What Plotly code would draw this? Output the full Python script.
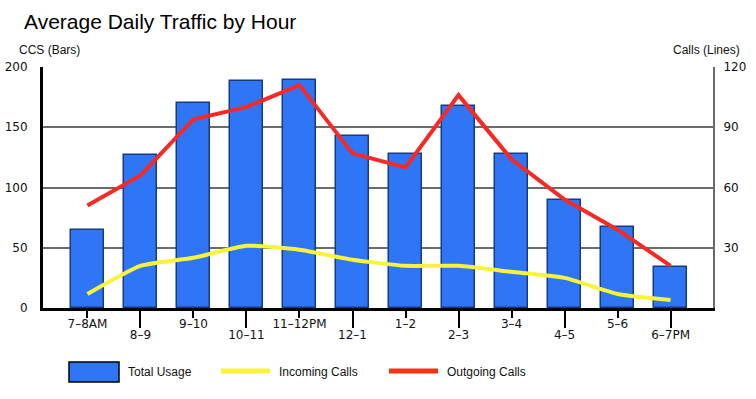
import plotly.graph_objects as go

categories = ["7–8AM", "8–9", "9–10", "10–11", "11–12PM", "12–1", "1–2", "2–3", "3–4", "4–5", "5–6", "6–7PM"]
total_usage = [65, 127, 170, 188, 189, 143, 128, 168, 128, 90, 67, 34]
incoming_calls = [7, 21, 25, 31, 29, 24, 21, 21, 18, 15, 7, 4]
outgoing_calls = [51, 66, 94, 100, 111, 77, 70, 106, 74, 54, 39, 21]
series_names = ["Total Usage", "Incoming Calls", "Outgoing Calls"]
left_ticks = [0, 50, 100, 150, 200]
right_ticks = [0, 30, 60, 90, 120]

BAR_COLOR = "#2E76F6"
BAR_EDGE = "#163B80"
YELLOW = "#F8F43C"
RED = "#F52A26"
LEG_RED = "#F23414"
GRID = "#6B6B6B"

W, H = 756, 399
L, R, T, B = 43, 713, 67, 308
idx = list(range(len(categories)))

fig = go.Figure()
fig.add_trace(go.Bar(x=idx, y=total_usage, width=0.634, name=series_names[0],
                     marker=dict(color=BAR_COLOR, line=dict(color=BAR_EDGE, width=1.5)),
                     showlegend=False))
fig.add_trace(go.Scatter(x=idx, y=incoming_calls, yaxis="y2", mode="lines", name=series_names[1],
                         line=dict(color=YELLOW, width=4, shape="spline", smoothing=0.5),
                         showlegend=False))
fig.add_trace(go.Scatter(x=idx, y=outgoing_calls, yaxis="y2", mode="lines", name=series_names[2],
                         line=dict(color=RED, width=4), showlegend=False))
# helper trace for the second (staggered) category axis
fig.add_trace(go.Scatter(x=idx, y=[None] * len(idx), xaxis="x2", mode="lines",
                         showlegend=False, hoverinfo="skip"))

xr = [-0.838, 11.80]
tickfont = dict(family="DejaVu Sans", size=12, color="#111")
even = [i for i in idx if i % 2 == 0]
odd = [i for i in idx if i % 2 == 1]

fig.update_layout(
    width=W, height=H,
    margin=dict(l=L, r=W - R, t=T, b=H - B, pad=0, autoexpand=False),
    paper_bgcolor="white", plot_bgcolor="white",
    bargap=0,
    xaxis=dict(range=xr, tickmode="array", tickvals=even, ticktext=[categories[i] for i in even],
               ticks="outside", ticklen=7, tickwidth=1.5, tickcolor="black", automargin=False,
               ticklabelstandoff=-4,
               showline=True, linecolor="black", linewidth=3, showgrid=False, zeroline=False,
               tickfont=tickfont, fixedrange=True),
    xaxis2=dict(range=xr, overlaying="x", side="bottom", tickmode="array", tickvals=odd,
                ticktext=[categories[i] for i in odd], ticks="outside", ticklen=19, tickwidth=1.5,
                ticklabelstandoff=-3,
                tickcolor="black", showline=False, showgrid=False, zeroline=False, automargin=False,
                tickfont=tickfont, fixedrange=True),
    yaxis=dict(range=[0, 200], tickvals=left_ticks, ticks="outside", ticklen=10, tickcolor="rgba(0,0,0,0)",
               showline=True, linecolor="black", linewidth=3, showgrid=True, gridcolor=GRID,
               gridwidth=2, zeroline=False, tickfont=tickfont, fixedrange=True, automargin=False),
    yaxis2=dict(range=[0, 120], tickvals=right_ticks[1:], overlaying="y", side="right",
                ticks="outside", ticklen=6, tickcolor="rgba(0,0,0,0)", automargin=False,
                showline=True, linecolor=GRID, linewidth=2, showgrid=False, zeroline=False,
                tickfont=tickfont, fixedrange=True),
    title=dict(text="Average Daily Traffic by Hour", x=24 / W, xanchor="left", xref="container",
               y=1 - 22 / H, yanchor="middle", yref="container",
               font=dict(family="Liberation Sans", size=21, color="black")),
)

def px_x(p):
    return (p - L) / (R - L)

def px_y(p):
    return (B - p) / (B - T)

axis_font = dict(family="Liberation Sans", size=12, color="#111")
fig.add_annotation(text="CCS (Bars)", x=px_x(17), y=px_y(50), xref="paper", yref="paper",
                   xanchor="left", yanchor="middle", showarrow=False, font=axis_font)
fig.add_annotation(text="Calls (Lines)", x=px_x(742), y=px_y(50), xref="paper", yref="paper",
                   xanchor="right", yanchor="middle", showarrow=False, font=axis_font)

# manual legend
leg_font = dict(family="Liberation Sans", size=12, color="#111")
fig.add_shape(type="rect", xref="paper", yref="paper", x0=px_x(69), x1=px_x(119),
              y0=px_y(382), y1=px_y(362), fillcolor=BAR_COLOR, line=dict(color="black", width=1.5))
fig.add_annotation(text=series_names[0], x=px_x(126), y=px_y(372), xref="paper", yref="paper",
                   xanchor="left", yanchor="middle", showarrow=False, font=leg_font)
fig.add_shape(type="line", xref="paper", yref="paper", x0=px_x(221), x1=px_x(270),
              y0=px_y(371), y1=px_y(371), line=dict(color=YELLOW, width=5))
fig.add_annotation(text=series_names[1], x=px_x(277), y=px_y(372), xref="paper", yref="paper",
                   xanchor="left", yanchor="middle", showarrow=False, font=leg_font)
fig.add_shape(type="line", xref="paper", yref="paper", x0=px_x(389), x1=px_x(438),
              y0=px_y(371), y1=px_y(371), line=dict(color=LEG_RED, width=5))
fig.add_annotation(text=series_names[2], x=px_x(445), y=px_y(372), xref="paper", yref="paper",
                   xanchor="left", yanchor="middle", showarrow=False, font=leg_font)

fig.write_html("out.html", config={"displayModeBar": False},
               post_script="document.body.style.margin='0';document.body.style.overflow='hidden';")
